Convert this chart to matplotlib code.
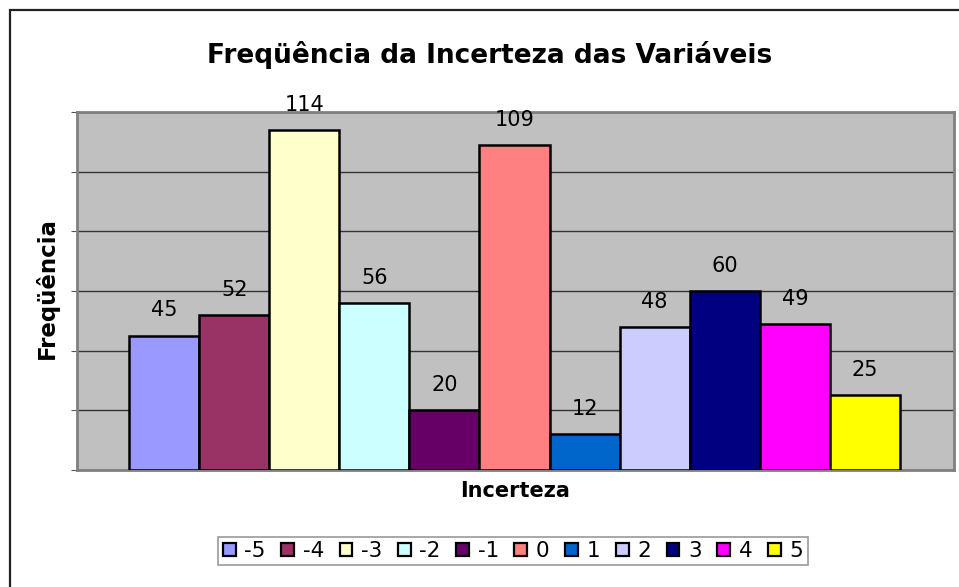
import matplotlib
matplotlib.use("Agg")
import matplotlib.pyplot as plt
from matplotlib.patches import Patch, Rectangle

categories = ["-5", "-4", "-3", "-2", "-1", "0", "1", "2", "3", "4", "5"]
values = [45, 52, 114, 56, 20, 109, 12, 48, 60, 49, 25]
colors = ["#9999FF", "#993366", "#FFFFCC", "#CCFFFF", "#660066", "#FF8080",
          "#0066CC", "#CCCCFF", "#000080", "#FF00FF", "#FFFF00"]
yticks = [0, 20, 40, 60, 80, 100, 120]

plt.rcParams['font.family'] = ['DejaVu Sans']

W, H = 959, 587
fig = plt.figure(figsize=(W / 100, H / 100), dpi=100)

# outer chart border
fig.patches.append(Rectangle((10 / W, -0.05), 1.1, 1 - 10 / H + 0.05,
                             transform=fig.transFigure, fill=False,
                             edgecolor="#222222", linewidth=1.6, zorder=0))

ax = fig.add_axes([77 / W, 1 - 470 / H, 877 / W, 358 / H])
ax.set_facecolor("#C0C0C0")

x = list(range(len(categories)))
bars = ax.bar(x, values, width=1.0, color=colors, edgecolor="black",
              linewidth=1.8, zorder=3)
for xi, v in zip(x, values):
    ax.annotate(str(v), (xi, v), xytext=(0, 11), textcoords="offset points",
                ha="center", va="bottom", fontsize=15, zorder=4)

ax.set_xlim(-0.5 - 52 / 70, 10.5 + 54 / 70)
ax.set_ylim(0, 120)
ax.set_yticks(yticks)
ax.set_yticklabels([])
ax.yaxis.grid(True, color="#333333", linewidth=1.0, zorder=1)
ax.tick_params(axis="y", length=4, color="#555555")
ax.set_xticks([])
for s in ax.spines.values():
    s.set_color("#808080")
    s.set_linewidth(2)

ax.set_xlabel("Incerteza", fontsize=15, fontweight="bold", labelpad=8)
fig.text(47 / W, 1 - 288 / H, "Freqüência", rotation=90, ha="center", va="center",
         fontsize=16.5, fontweight="bold")

fig.text(490 / W, 1 - 55 / H, "Freqüência da Incerteza das Variáveis",
         ha="center", va="center", fontsize=19, fontweight="bold")

handles = [Patch(facecolor=c, edgecolor="black", linewidth=1.6) for c in colors]
leg = fig.legend(handles, categories, loc="center", bbox_to_anchor=(513 / W, 1 - 551 / H),
                 ncol=len(categories), fontsize=15.5, frameon=True, fancybox=False,
                 handlelength=0.6, handleheight=0.6, handletextpad=0.4,
                 columnspacing=0.72, borderpad=0.2, borderaxespad=0,
                 edgecolor="#808080")
leg.get_frame().set_linewidth(1.2)

fig.savefig("out.png", dpi=100)
